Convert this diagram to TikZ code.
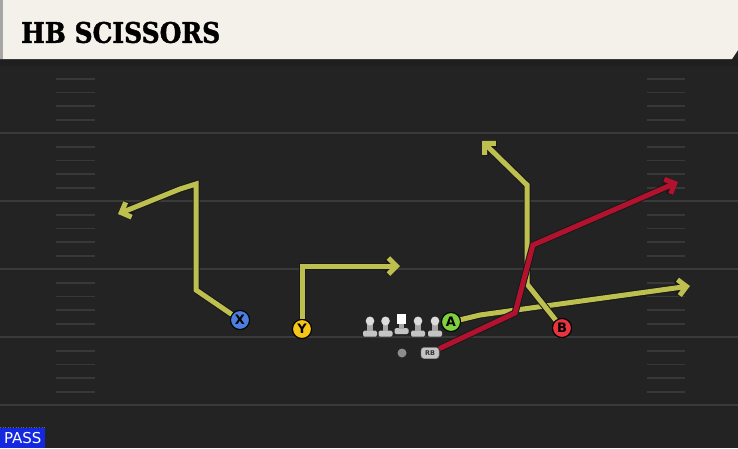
\documentclass[tikz,border=0pt]{standalone}
\usepackage{fontspec}
\usepackage{graphicx}
\setmainfont{DejaVu Sans}
\setsansfont{DejaVu Sans}
\newfontfamily\titlefont{DejaVu Serif}[UprightFont={* Bold}, FakeBold=1.5]
\usetikzlibrary{arrows.meta}
\definecolor{field}{HTML}{232323}
\definecolor{yardline}{HTML}{3A3A3A}
\definecolor{hashc}{HTML}{383838}
\definecolor{headerc}{HTML}{F4F1EA}
\definecolor{routey}{HTML}{BDBF4F}
\definecolor{router}{HTML}{B3122F}
\definecolor{xblue}{HTML}{4A7FE0}
\definecolor{ygold}{HTML}{F5C518}
\definecolor{agreen}{HTML}{7ED23E}
\definecolor{bred}{HTML}{E8343F}
\definecolor{passblue}{HTML}{1428E0}
\definecolor{olgray}{HTML}{C4C4C4}
\tikzset{
  yard/.style={draw=yardline, line width=2pt},
  hashmark/.style={draw=hashc, line width=1.8pt},
  player/.style={circle, draw=black, line width=1pt, minimum size=19pt, inner sep=0pt,
    font=\sffamily\bfseries\fontsize{13}{13}\selectfont, text=black},
  rbstyle/.style={fill=olgray, draw=black!60, line width=0.4pt, rounded corners=3pt, minimum width=18pt, minimum height=11pt, inner sep=0pt,
    font=\sffamily\bfseries\fontsize{6.5}{6.5}\selectfont, text=black!80},
  routeout/.style={draw=black!90, line width=7pt, -{Straight Barb[length=8pt,width=16pt]}},
  yroute/.style={draw=routey, line width=5pt, -{Straight Barb[length=8pt,width=16pt]}},
  rroute/.style={draw=router, line width=5pt, -{Straight Barb[length=8pt,width=16pt]}},
  lineman/.pic={
    \fill[olgray, rounded corners=1.5pt] (-7,-6) rectangle (7,0);
    \fill[olgray!85!black] (-2.8,-15) rectangle (2.8,-5.5);
    \fill[olgray!60!white] (0,-15.5) ellipse (4.3 and 4.5);
  },
  centerman/.pic={
    \fill[olgray, rounded corners=1.5pt] (-7,-6) rectangle (7,0);
    \fill[olgray!85!black] (-2.8,-11) rectangle (2.8,-5.5);
    \fill[white] (-4.8,-20.5) rectangle (4.8,-10.5);
  }
}
\begin{document}
\begin{tikzpicture}[x=1pt,y=-1pt]
\useasboundingbox (0,0) rectangle (738,448);
\fill[field] (0,0) rectangle (738,448);
% yard lines
\foreach \y in {133,201,269,337,405} \draw[yard] (0,\y) -- (738,\y);
% hash marks
\foreach \y in {65,133,201,269,337} {
  \foreach \d in {14,27.5,41,55} {
    \draw[hashmark] (56,\y+\d) -- (95,\y+\d);
    \draw[hashmark] (647,\y+\d) -- (685,\y+\d);
  }
}
% header
\fill[black!88] (0,59) rectangle (738,66);
\fill[headerc] (0,0) -- (738,0) -- (738,50) -- (732,59) -- (0,59) -- cycle;
\fill[black!35] (0,0) rectangle (2.5,59);
\node[anchor=west, inner sep=0pt] (title) at (21,32.5) {\resizebox{199pt}{21pt}{\titlefont HB SCISSORS}};

% players
\node[player, fill=xblue] (X) at (240,320) {X};
\node[player, fill=ygold] (Y) at (302,329) {Y};
\node[player, fill=agreen] (A) at (451,322) {A};
\node[player, fill=bred] (B) at (562,328) {B};
\node[rbstyle] (RB) at (430,353) {RB};
\node[circle, fill=black!45, minimum size=9pt, inner sep=0pt] (QB) at (402,353) {};
% line
\pic (ol1) at (370,336.5) {lineman};
\pic (ol2) at (385.5,336.5) {lineman};
\pic (ol3) at (401.5,334) {centerman};
\pic (ol4) at (418,336.5) {lineman};
\pic (ol5) at (435,336.5) {lineman};

% route points
\coordinate (x1) at (196,290);
\coordinate (x2) at (196,184);
\coordinate (x3) at (180,189);
\coordinate (xe) at (118,214);
\coordinate (y1) at (302,266);
\coordinate (ye) at (400,266);
\coordinate (a1) at (480,315);
\coordinate (ae) at (690,286);
\coordinate (b1) at (527,284);
\coordinate (b2) at (527,185);
\coordinate (be) at (482,141);
\coordinate (r1) at (515,313);
\coordinate (r2) at (533,245);
\coordinate (re) at (678,182);

% yellow routes
\draw[routeout] (X) -- (x1) -- (x2) -- (x3) -- (xe);
\draw[yroute] (X) -- (x1) -- (x2) -- (x3) -- (xe);
\draw[routeout] (Y) -- (y1) -- (ye);
\draw[yroute] (Y) -- (y1) -- (ye);
\draw[routeout] (A) -- (a1) -- (ae);
\draw[yroute] (A) -- (a1) -- (ae);
\draw[routeout] (B) -- (b1) -- (b2) -- (be);
\draw[yroute] (B) -- (b1) -- (b2) -- (be);
% red route
\draw[routeout] (RB) -- (r1) -- (r2) -- (re);
\draw[rroute] (RB) -- (r1) -- (r2) -- (re);

% redraw player nodes on top
\node[player, fill=xblue] at (X) {X};
\node[player, fill=ygold] at (Y) {Y};
\node[player, fill=agreen] at (A) {A};
\node[player, fill=bred] at (B) {B};
\node[rbstyle] at (RB) {RB};

% pass badge
\draw[black!60, dotted, line width=0.6pt] (0,427) -- (45,427);
\node[fill=passblue, text=white, anchor=south west, minimum width=45pt, minimum height=20pt,
  inner sep=0pt, font=\fontsize{15}{15}\selectfont] (pass) at (0,448) {PASS};
\end{tikzpicture}
\end{document}
